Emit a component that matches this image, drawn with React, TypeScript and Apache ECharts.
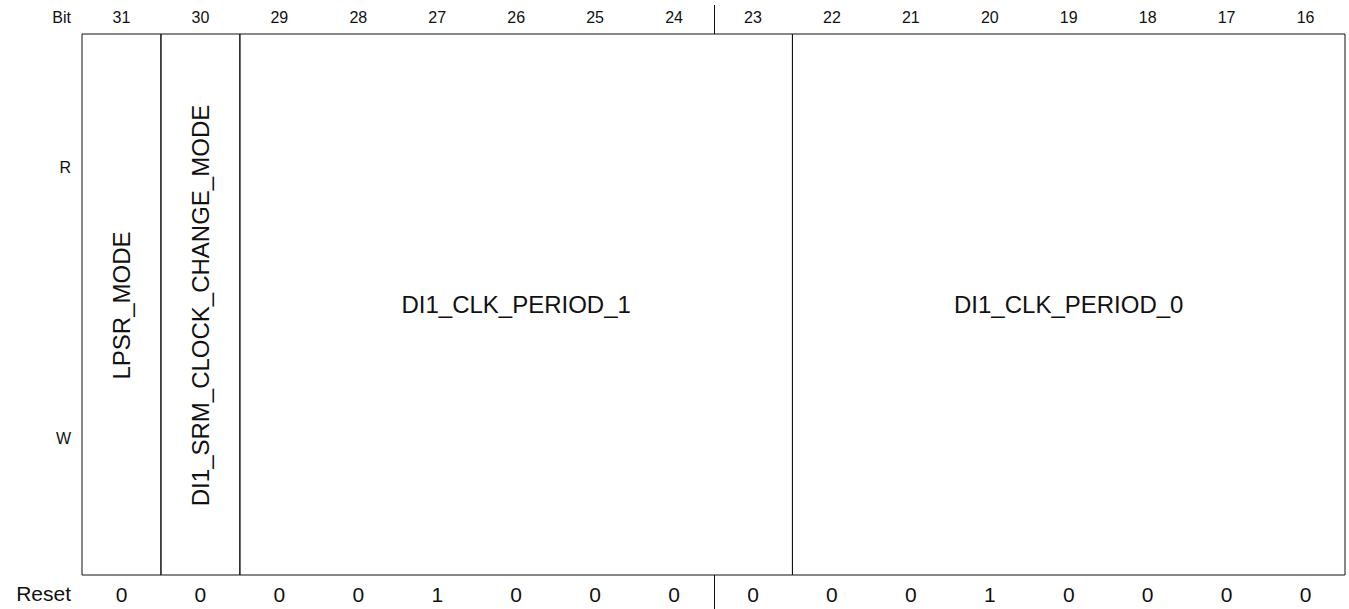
import React, { useEffect, useRef } from "react";
import * as echarts from "echarts";

const bitLabels = ["31", "30", "29", "28", "27", "26", "25", "24", "23", "22", "21", "20", "19", "18", "17", "16"];
const resetValues = ["0", "0", "0", "0", "1", "0", "0", "0", "0", "0", "0", "1", "0", "0", "0", "0"];
const fieldNames = ["LPSR_MODE", "DI1_SRM_CLOCK_CHANGE_MODE", "DI1_CLK_PERIOD_1", "DI1_CLK_PERIOD_0"];
const fieldMsb = [31, 30, 29, 22];
const fieldLsb = [31, 30, 23, 16];
const fieldVertical = [true, true, false, false];
const byteBoundaries = [24];
const rowLabels = ["R", "W"];

const FONT = '"Liberation Sans", Arial, Helvetica, sans-serif';
const INK = "#111";

export default function App() {
  const ref = useRef<HTMLDivElement>(null);
  useEffect(() => {
    if (!ref.current) return;
    const chart = echarts.init(ref.current, null, { renderer: "svg" });
    const fieldData = fieldNames.map((_, i) => [31 - fieldMsb[i], 32 - fieldLsb[i], i]);
    const dividerData = byteBoundaries.map((b) => [31 - b + 1]);
    chart.setOption({
      animation: false,
      grid: { left: 82, right: 4, top: 34, bottom: 34 },
      xAxis: [
        {
          type: "category",
          data: bitLabels,
          position: "top",
          axisLine: { show: false },
          axisTick: { show: false },
          splitLine: { show: false },
          axisLabel: { color: INK, fontSize: 16, fontFamily: FONT, margin: 9 },
        },
        {
          type: "category",
          data: resetValues,
          position: "bottom",
          axisLine: { show: false },
          axisTick: { show: false },
          splitLine: { show: false },
          axisLabel: { color: INK, fontSize: 21, fontFamily: FONT, margin: 9 },
        },
        { type: "value", min: 0, max: 16, show: false },
      ],
      yAxis: [{ type: "value", min: 0, max: 1, show: false }],
      graphic: [
        { type: "text", right: 1349 - 71, top: 9, style: { text: "Bit", fontSize: 16, fontFamily: FONT, fill: INK } },
        { type: "text", right: 1349 - 71, top: 583, style: { text: "Reset", fontSize: 21, fontFamily: FONT, fill: INK } },
        { type: "text", right: 1349 - 71, top: 159, style: { text: rowLabels[0], fontSize: 16, fontFamily: FONT, fill: INK } },
        { type: "text", right: 1349 - 71, top: 430, style: { text: rowLabels[1], fontSize: 16, fontFamily: FONT, fill: INK } },
      ],
      series: [
        {
          type: "custom",
          xAxisIndex: 2,
          yAxisIndex: 0,
          clip: false,
          data: fieldData,
          renderItem: (params: any, api: any) => {
            const s = api.coord([api.value(0), 1]);
            const e = api.coord([api.value(1), 0]);
            const idx = params.dataIndex;
            const cx = (s[0] + e[0]) / 2;
            const cy = (s[1] + e[1]) / 2 + (fieldVertical[idx] ? 1 : 0);
            return {
              type: "group",
              children: [
                {
                  type: "rect",
                  shape: { x: s[0], y: s[1], width: e[0] - s[0], height: e[1] - s[1] },
                  style: { fill: "none", stroke: INK, lineWidth: 1 },
                },
                {
                  type: "text",
                  x: cx,
                  y: cy,
                  rotation: fieldVertical[idx] ? Math.PI / 2 : 0,
                  style: {
                    text: fieldNames[idx],
                    x: 0,
                    y: 0,
                    align: "center",
                    verticalAlign: "middle",
                    fontSize: 24,
                    fontFamily: FONT,
                    fill: INK,
                  },
                },
              ],
            };
          },
        },
        {
          type: "custom",
          xAxisIndex: 2,
          yAxisIndex: 0,
          clip: false,
          data: dividerData,
          renderItem: (params: any, api: any) => {
            const x = Math.round(api.coord([api.value(0), 0])[0]) + 0.5;
            const cs = params.coordSys;
            return {
              type: "group",
              children: [
                { type: "line", shape: { x1: x, y1: cs.y - 29, x2: x, y2: cs.y }, style: { stroke: INK, lineWidth: 1 } },
                { type: "line", shape: { x1: x, y1: cs.y + cs.height, x2: x, y2: cs.y + cs.height + 40 }, style: { stroke: INK, lineWidth: 1 } },
              ],
            };
          },
        },
      ],
    });
    return () => chart.dispose();
  }, []);
  return <div ref={ref} style={{ position: "absolute", left: 0, top: 0, width: 1349, height: 609 }} />;
}
